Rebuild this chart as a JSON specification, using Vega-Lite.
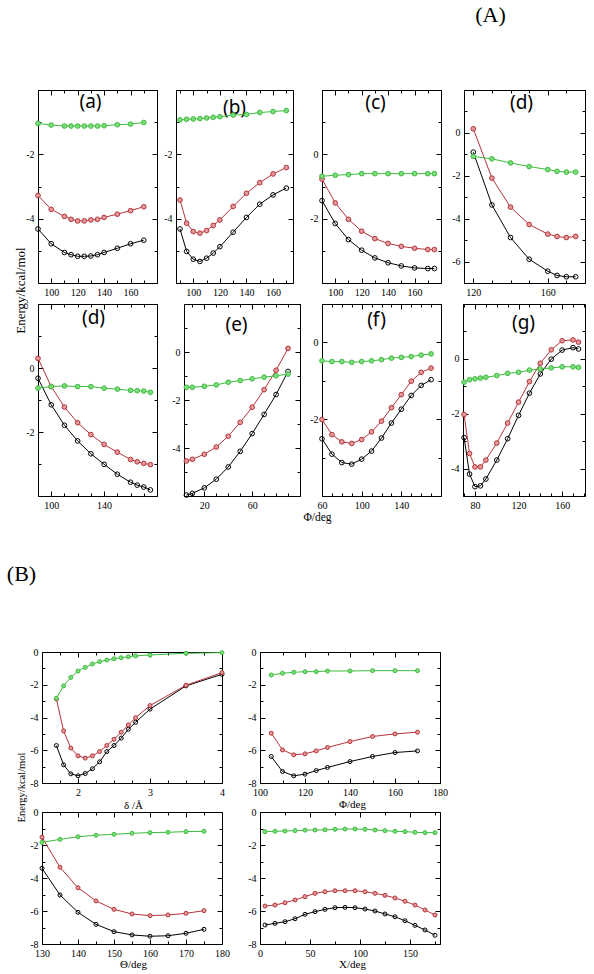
{
"$schema":"https://vega.github.io/schema/vega-lite/v6.json",
"width":594,"height":974,
"autosize":{"type":"none"},
"padding":0,
"background":"white",
"config":{
 "view":{"stroke":null},
 "axis":{"domain":true,"domainColor":"#000","domainWidth":1,"grid":false,"tickColor":"#000","tickWidth":1,"labelFont":"Liberation Serif","labelFontSize":10,"labelColor":"#000","labelFlush":false,"labelOverlap":false,"labelBound":false,"labelPadding":9,"titleFont":"Liberation Serif","titleFontWeight":"normal","titleColor":"#000","titleFontSize":12,"titleBaseline":"middle","titleAlign":"center"}
},
"data":{"values":[
{"p":"a","x":90,"k":-4.32,"r":-3.28,"g":-1.04},{"p":"a","x":100,"k":-4.78,"r":-3.71,"g":-1.09},{"p":"a","x":110,"k":-5.05,"r":-3.93,"g":-1.12},{"p":"a","x":115,"k":-5.12,"r":-4.02,"g":-1.12},{"p":"a","x":120,"k":-5.17,"r":-4.07,"g":-1.12},{"p":"a","x":125,"k":-5.17,"r":-4.07,"g":-1.12},{"p":"a","x":130,"k":-5.16,"r":-4.04,"g":-1.12},{"p":"a","x":135,"k":-5.12,"r":-4.02,"g":-1.12},{"p":"a","x":140,"k":-5.05,"r":-3.96,"g":-1.11},{"p":"a","x":150,"k":-4.92,"r":-3.86,"g":-1.08},{"p":"a","x":160,"k":-4.78,"r":-3.75,"g":-1.06},{"p":"a","x":170,"k":-4.67,"r":-3.63,"g":-1.01},
{"p":"b","x":90,"k":-4.32,"r":-3.42,"g":-0.93},{"p":"b","x":95,"k":-5.02,"r":-4.14,"g":-0.91},{"p":"b","x":100,"k":-5.26,"r":-4.40,"g":-0.90},{"p":"b","x":105,"k":-5.33,"r":-4.45,"g":-0.89},{"p":"b","x":110,"k":-5.23,"r":-4.37,"g":-0.87},{"p":"b","x":115,"k":-5.07,"r":-4.21,"g":-0.85},{"p":"b","x":120,"k":-4.87,"r":-4.04,"g":-0.83},{"p":"b","x":130,"k":-4.42,"r":-3.62,"g":-0.78},{"p":"b","x":140,"k":-3.96,"r":-3.21,"g":-0.76},{"p":"b","x":150,"k":-3.55,"r":-2.88,"g":-0.70},{"p":"b","x":160,"k":-3.26,"r":-2.61,"g":-0.67},{"p":"b","x":170,"k":-3.05,"r":-2.41,"g":-0.64},
{"p":"c","x":90,"k":-1.44,"r":-0.77,"g":-0.68},{"p":"c","x":100,"k":-2.15,"r":-1.51,"g":-0.65},{"p":"c","x":110,"k":-2.65,"r":-2.02,"g":-0.63},{"p":"c","x":120,"k":-2.98,"r":-2.39,"g":-0.60},{"p":"c","x":130,"k":-3.22,"r":-2.62,"g":-0.60},{"p":"c","x":140,"k":-3.37,"r":-2.77,"g":-0.60},{"p":"c","x":150,"k":-3.47,"r":-2.86,"g":-0.60},{"p":"c","x":160,"k":-3.53,"r":-2.92,"g":-0.60},{"p":"c","x":170,"k":-3.55,"r":-2.96,"g":-0.60},{"p":"c","x":175,"k":-3.55,"r":-2.96,"g":-0.60},
{"p":"d","x":120,"k":-0.90,"r":0.19,"g":-1.10},{"p":"d","x":130,"k":-3.36,"r":-2.11,"g":-1.21},{"p":"d","x":140,"k":-4.88,"r":-3.46,"g":-1.40},{"p":"d","x":150,"k":-5.89,"r":-4.27,"g":-1.57},{"p":"d","x":160,"k":-6.45,"r":-4.72,"g":-1.71},{"p":"d","x":165,"k":-6.65,"r":-4.83,"g":-1.79},{"p":"d","x":170,"k":-6.71,"r":-4.88,"g":-1.83},{"p":"d","x":175,"k":-6.71,"r":-4.83,"g":-1.83},
{"p":"d2","x":90,"k":-0.32,"r":0.30,"g":-0.63},{"p":"d2","x":100,"k":-1.15,"r":-0.58,"g":-0.58},{"p":"d2","x":110,"k":-1.79,"r":-1.22,"g":-0.56},{"p":"d2","x":120,"k":-2.28,"r":-1.71,"g":-0.58},{"p":"d2","x":130,"k":-2.68,"r":-2.08,"g":-0.58},{"p":"d2","x":140,"k":-3.01,"r":-2.39,"g":-0.63},{"p":"d2","x":150,"k":-3.32,"r":-2.63,"g":-0.66},{"p":"d2","x":160,"k":-3.57,"r":-2.86,"g":-0.70},{"p":"d2","x":165,"k":-3.66,"r":-2.93,"g":-0.71},{"p":"d2","x":170,"k":-3.72,"r":-2.98,"g":-0.72},{"p":"d2","x":175,"k":-3.81,"r":-3.02,"g":-0.76},
{"p":"e","x":5,"k":-5.96,"r":-4.54,"g":-1.47},{"p":"e","x":10,"k":-5.89,"r":-4.47,"g":-1.47},{"p":"e","x":20,"k":-5.66,"r":-4.26,"g":-1.43},{"p":"e","x":30,"k":-5.30,"r":-3.96,"g":-1.37},{"p":"e","x":40,"k":-4.79,"r":-3.51,"g":-1.26},{"p":"e","x":50,"k":-4.14,"r":-2.93,"g":-1.19},{"p":"e","x":60,"k":-3.40,"r":-2.30,"g":-1.12},{"p":"e","x":70,"k":-2.60,"r":-1.57,"g":-1.05},{"p":"e","x":80,"k":-1.77,"r":-0.76,"g":-0.99},{"p":"e","x":90,"k":-0.81,"r":0.15,"g":-0.92},
{"p":"f","x":60,"k":-2.51,"r":-2.01,"g":-0.48},{"p":"f","x":70,"k":-2.91,"r":-2.40,"g":-0.50},{"p":"f","x":80,"k":-3.13,"r":-2.59,"g":-0.50},{"p":"f","x":90,"k":-3.17,"r":-2.63,"g":-0.52},{"p":"f","x":100,"k":-3.04,"r":-2.53,"g":-0.50},{"p":"f","x":110,"k":-2.83,"r":-2.33,"g":-0.48},{"p":"f","x":120,"k":-2.49,"r":-2.05,"g":-0.45},{"p":"f","x":130,"k":-2.10,"r":-1.70,"g":-0.41},{"p":"f","x":140,"k":-1.74,"r":-1.36,"g":-0.39},{"p":"f","x":150,"k":-1.38,"r":-1.01,"g":-0.37},{"p":"f","x":160,"k":-1.12,"r":-0.78,"g":-0.33},{"p":"f","x":170,"k":-0.97,"r":-0.67,"g":-0.30},
{"p":"g","x":70,"k":-2.87,"r":-2.03,"g":-0.85},{"p":"g","x":75,"k":-4.20,"r":-3.45,"g":-0.76},{"p":"g","x":80,"k":-4.66,"r":-3.94,"g":-0.73},{"p":"g","x":85,"k":-4.63,"r":-3.94,"g":-0.70},{"p":"g","x":90,"k":-4.38,"r":-3.69,"g":-0.67},{"p":"g","x":100,"k":-3.69,"r":-3.07,"g":-0.61},{"p":"g","x":110,"k":-2.91,"r":-2.34,"g":-0.53},{"p":"g","x":120,"k":-2.06,"r":-1.58,"g":-0.49},{"p":"g","x":130,"k":-1.25,"r":-0.83,"g":-0.41},{"p":"g","x":140,"k":-0.55,"r":-0.16,"g":-0.37},{"p":"g","x":150,"k":-0.01,"r":0.33,"g":-0.33},{"p":"g","x":160,"k":0.32,"r":0.66,"g":-0.29},{"p":"g","x":170,"k":0.41,"r":0.69,"g":-0.29},{"p":"g","x":175,"k":0.36,"r":0.61,"g":-0.31},
{"p":"B1","x":1.7,"k":-5.71,"r":-2.87,"g":-2.83},{"p":"B1","x":1.8,"k":-6.89,"r":-4.82,"g":-2.07},{"p":"B1","x":1.9,"k":-7.44,"r":-5.87,"g":-1.55},{"p":"B1","x":2.0,"k":-7.56,"r":-6.34,"g":-1.16},{"p":"B1","x":2.1,"k":-7.42,"r":-6.48,"g":-0.94},{"p":"B1","x":2.2,"k":-7.13,"r":-6.34,"g":-0.73},{"p":"B1","x":2.3,"k":-6.71,"r":-6.08,"g":-0.59},{"p":"B1","x":2.4,"k":-6.08,"r":-5.71,"g":-0.49},{"p":"B1","x":2.5,"k":-5.71,"r":-5.33,"g":-0.41},{"p":"B1","x":2.6,"k":-5.26,"r":-4.90,"g":-0.35},{"p":"B1","x":2.7,"k":-4.72,"r":-4.45,"g":-0.29},{"p":"B1","x":2.8,"k":-4.29,"r":-4.01,"g":-0.24},{"p":"B1","x":3.0,"k":-3.49,"r":-3.27,"g":-0.18},{"p":"B1","x":3.5,"k":-2.07,"r":-2.03,"g":-0.08},{"p":"B1","x":4.0,"k":-1.36,"r":-1.26,"g":-0.04},
{"p":"B2","x":105,"k":-6.38,"r":-4.96,"g":-1.40},{"p":"B2","x":110,"k":-7.30,"r":-5.98,"g":-1.30},{"p":"B2","x":115,"k":-7.56,"r":-6.28,"g":-1.24},{"p":"B2","x":120,"k":-7.46,"r":-6.22,"g":-1.20},{"p":"B2","x":125,"k":-7.24,"r":-6.04,"g":-1.20},{"p":"B2","x":130,"k":-7.05,"r":-5.83,"g":-1.16},{"p":"B2","x":140,"k":-6.69,"r":-5.47,"g":-1.16},{"p":"B2","x":150,"k":-6.38,"r":-5.16,"g":-1.14},{"p":"B2","x":160,"k":-6.14,"r":-5.00,"g":-1.14},{"p":"B2","x":170,"k":-6.04,"r":-4.90,"g":-1.14},
{"p":"B3","x":130,"k":-3.41,"r":-1.53,"g":-1.84},{"p":"B3","x":135,"k":-5.03,"r":-3.35,"g":-1.66},{"p":"B3","x":140,"k":-6.08,"r":-4.59,"g":-1.50},{"p":"B3","x":145,"k":-6.81,"r":-5.39,"g":-1.41},{"p":"B3","x":150,"k":-7.25,"r":-5.90,"g":-1.35},{"p":"B3","x":155,"k":-7.45,"r":-6.18,"g":-1.29},{"p":"B3","x":160,"k":-7.53,"r":-6.28,"g":-1.25},{"p":"B3","x":165,"k":-7.50,"r":-6.24,"g":-1.23},{"p":"B3","x":170,"k":-7.35,"r":-6.14,"g":-1.19},{"p":"B3","x":175,"k":-7.11,"r":-5.98,"g":-1.17},
{"p":"B4","x":5,"k":-6.85,"r":-5.70,"g":-1.19},{"p":"B4","x":15,"k":-6.75,"r":-5.64,"g":-1.17},{"p":"B4","x":25,"k":-6.65,"r":-5.50,"g":-1.15},{"p":"B4","x":35,"k":-6.47,"r":-5.33,"g":-1.13},{"p":"B4","x":45,"k":-6.20,"r":-5.13,"g":-1.10},{"p":"B4","x":55,"k":-6.04,"r":-4.93,"g":-1.09},{"p":"B4","x":65,"k":-5.90,"r":-4.83,"g":-1.08},{"p":"B4","x":75,"k":-5.80,"r":-4.77,"g":-1.05},{"p":"B4","x":85,"k":-5.78,"r":-4.77,"g":-1.03},{"p":"B4","x":95,"k":-5.80,"r":-4.77,"g":-1.03},{"p":"B4","x":105,"k":-5.88,"r":-4.83,"g":-1.05},{"p":"B4","x":115,"k":-6.00,"r":-4.93,"g":-1.09},{"p":"B4","x":125,"k":-6.18,"r":-5.05,"g":-1.13},{"p":"B4","x":135,"k":-6.35,"r":-5.21,"g":-1.17},{"p":"B4","x":145,"k":-6.59,"r":-5.41,"g":-1.19},{"p":"B4","x":155,"k":-6.87,"r":-5.64,"g":-1.23},{"p":"B4","x":165,"k":-7.15,"r":-5.94,"g":-1.25},{"p":"B4","x":175,"k":-7.47,"r":-6.24,"g":-1.25}
]},
"resolve":{"scale":{"x":"independent","y":"independent"},"axis":{"x":"independent","y":"independent"}},
"layer":[
{"transform":[{"filter":"datum.p==='a'"},{"fold":["k","r","g"],"as":["s","y"]}],"mark":{"type":"line","strokeWidth":1},"encoding":{
 "x":{"field":"x","type":"quantitative","scale":{"domain":[90,180],"range":[38,157],"nice":false,"zero":false},"axis":{"orient":"bottom","offset":-691,"title":null,"values":[90,100,110,120,130,140,150,160,170,180],"tickSize":{"condition":{"test":"datum.value%20===0","value":-5},"value":-3},"labelExpr":"indexof([100,120,140,160],datum.value)>=0?''+datum.value:''"}},
 "y":{"field":"y","type":"quantitative","scale":{"domain":[-6,0],"range":[283,90],"nice":false,"zero":false},"axis":{"orient":"left","offset":-38,"title":"Energy/kcal/mol","titleX":-18,"titleY":290,"titleFontSize":13,"values":[-6,-5,-4,-3,-2,-1,0],"tickSize":{"condition":{"test":"datum.value%2===0","value":-5},"value":-3},"labelExpr":"indexof([-2,-4],datum.value)>=0?''+datum.value:''"}},
 "color":{"field":"s","type":"nominal","scale":{"domain":["k","r","g"],"range":["#000000","#b5333a","#3dbb3d"]},"legend":null}}},
{"transform":[{"filter":"datum.p==='a'"},{"fold":["k","r","g"],"as":["s","y"]}],"mark":{"type":"point","filled":false,"size":22,"strokeWidth":1,"opacity":1},"encoding":{
 "x":{"field":"x","type":"quantitative","scale":{"domain":[90,180],"range":[38,157],"nice":false,"zero":false},"axis":{"orient":"top","offset":-90,"title":"(a)","titleX":90,"titleY":17.5,"titleFont":"Noto Sans","titleFontSize":19,"titleAngle":0,"titleBaseline":"alphabetic","labels":false,"values":[90,100,110,120,130,140,150,160,170,180],"tickSize":{"condition":{"test":"datum.value%20===0","value":-5},"value":-3}}},
 "y":{"field":"y","type":"quantitative","scale":{"domain":[-6,0],"range":[283,90],"nice":false,"zero":false},"axis":{"orient":"right","offset":-437,"title":null,"labels":false,"values":[-6,-5,-4,-3,-2,-1,0],"tickSize":{"condition":{"test":"datum.value%2===0","value":-5},"value":-3}}},
 "color":{"field":"s","type":"nominal","scale":{"domain":["k","r","g"],"range":["#000000","#b5333a","#3dbb3d"]},"legend":null},
 "fill":{"field":"s","type":"nominal","scale":{"domain":["k","r","g"],"range":["transparent","#e49a9a","#7ddc7d"]},"legend":null}}},

{"transform":[{"filter":"datum.p==='b'"},{"fold":["k","r","g"],"as":["s","y"]}],"mark":{"type":"line","strokeWidth":1},"encoding":{
 "x":{"field":"x","type":"quantitative","scale":{"domain":[87,175],"range":[176,293],"nice":false,"zero":false},"axis":{"orient":"bottom","offset":-691,"title":null,"values":[90,100,110,120,130,140,150,160,170],"tickSize":{"condition":{"test":"datum.value%20===0","value":-5},"value":-3},"labelExpr":"indexof([100,120,140,160],datum.value)>=0?''+datum.value:''"}},
 "y":{"field":"y","type":"quantitative","scale":{"domain":[-6,0],"range":[283,90],"nice":false,"zero":false},"axis":{"orient":"left","offset":-176,"title":null,"values":[-6,-5,-4,-3,-2,-1,0],"tickSize":{"condition":{"test":"datum.value%2===0","value":-5},"value":-3},"labelExpr":"indexof([-2,-4],datum.value)>=0?''+datum.value:''"}},
 "color":{"field":"s","type":"nominal","scale":{"domain":["k","r","g"],"range":["#000000","#b5333a","#3dbb3d"]},"legend":null}}},
{"transform":[{"filter":"datum.p==='b'"},{"fold":["k","r","g"],"as":["s","y"]}],"mark":{"type":"point","filled":false,"size":22,"strokeWidth":1,"opacity":1},"encoding":{
 "x":{"field":"x","type":"quantitative","scale":{"domain":[87,175],"range":[176,293],"nice":false,"zero":false},"axis":{"orient":"top","offset":-90,"title":"(b)","titleX":234,"titleY":23.5,"titleFont":"Noto Sans","titleFontSize":19,"titleAngle":0,"titleBaseline":"alphabetic","labels":false,"values":[90,100,110,120,130,140,150,160,170],"tickSize":{"condition":{"test":"datum.value%20===0","value":-5},"value":-3}}},
 "y":{"field":"y","type":"quantitative","scale":{"domain":[-6,0],"range":[283,90],"nice":false,"zero":false},"axis":{"orient":"right","offset":-301,"title":null,"labels":false,"values":[-6,-5,-4,-3,-2,-1,0],"tickSize":{"condition":{"test":"datum.value%2===0","value":-5},"value":-3}}},
 "color":{"field":"s","type":"nominal","scale":{"domain":["k","r","g"],"range":["#000000","#b5333a","#3dbb3d"]},"legend":null},
 "fill":{"field":"s","type":"nominal","scale":{"domain":["k","r","g"],"range":["transparent","#e49a9a","#7ddc7d"]},"legend":null}}},

{"transform":[{"filter":"datum.p==='c'"},{"fold":["k","r","g"],"as":["s","y"]}],"mark":{"type":"line","strokeWidth":1},"encoding":{
 "x":{"field":"x","type":"quantitative","scale":{"domain":[90,180],"range":[322,441],"nice":false,"zero":false},"axis":{"orient":"bottom","offset":-691,"title":null,"values":[90,100,110,120,130,140,150,160,170,180],"tickSize":{"condition":{"test":"datum.value%20===0","value":-5},"value":-3},"labelExpr":"indexof([100,120,140,160],datum.value)>=0?''+datum.value:''"}},
 "y":{"field":"y","type":"quantitative","scale":{"domain":[-4,2],"range":[283,90],"nice":false,"zero":false},"axis":{"orient":"left","offset":-322,"title":null,"values":[-4,-3,-2,-1,0,1,2],"tickSize":{"condition":{"test":"datum.value%2===0","value":-5},"value":-3},"labelExpr":"indexof([0,-2],datum.value)>=0?''+datum.value:''"}},
 "color":{"field":"s","type":"nominal","scale":{"domain":["k","r","g"],"range":["#000000","#b5333a","#3dbb3d"]},"legend":null}}},
{"transform":[{"filter":"datum.p==='c'"},{"fold":["k","r","g"],"as":["s","y"]}],"mark":{"type":"point","filled":false,"size":22,"strokeWidth":1,"opacity":1},"encoding":{
 "x":{"field":"x","type":"quantitative","scale":{"domain":[90,180],"range":[322,441],"nice":false,"zero":false},"axis":{"orient":"top","offset":-90,"title":"(c)","titleX":375,"titleY":18.8,"titleFont":"Noto Sans","titleFontSize":19,"titleAngle":0,"titleBaseline":"alphabetic","labels":false,"values":[90,100,110,120,130,140,150,160,170,180],"tickSize":{"condition":{"test":"datum.value%20===0","value":-5},"value":-3}}},
 "y":{"field":"y","type":"quantitative","scale":{"domain":[-4,2],"range":[283,90],"nice":false,"zero":false},"axis":{"orient":"right","offset":-153,"title":null,"labels":false,"values":[-4,-3,-2,-1,0,1,2],"tickSize":{"condition":{"test":"datum.value%2===0","value":-5},"value":-3}}},
 "color":{"field":"s","type":"nominal","scale":{"domain":["k","r","g"],"range":["#000000","#b5333a","#3dbb3d"]},"legend":null},
 "fill":{"field":"s","type":"nominal","scale":{"domain":["k","r","g"],"range":["transparent","#e49a9a","#7ddc7d"]},"legend":null}}},

{"transform":[{"filter":"datum.p==='d'"},{"fold":["k","r","g"],"as":["s","y"]}],"mark":{"type":"line","strokeWidth":1},"encoding":{
 "x":{"field":"x","type":"quantitative","scale":{"domain":[115,180],"range":[464,585],"nice":false,"zero":false},"axis":{"orient":"bottom","offset":-691,"title":null,"values":[120,130,140,150,160,170,180],"tickSize":{"condition":{"test":"datum.value%40===0","value":-5},"value":-3},"labelExpr":"indexof([120,160],datum.value)>=0?''+datum.value:''"}},
 "y":{"field":"y","type":"quantitative","scale":{"domain":[-7,2],"range":[283,90],"nice":false,"zero":false},"axis":{"orient":"left","offset":-464,"title":null,"values":[-7,-6,-5,-4,-3,-2,-1,0,1,2],"tickSize":{"condition":{"test":"datum.value%2===0","value":-5},"value":-3},"labelExpr":"indexof([0,-2,-4,-6],datum.value)>=0?''+datum.value:''"}},
 "color":{"field":"s","type":"nominal","scale":{"domain":["k","r","g"],"range":["#000000","#b5333a","#3dbb3d"]},"legend":null}}},
{"transform":[{"filter":"datum.p==='d'"},{"fold":["k","r","g"],"as":["s","y"]}],"mark":{"type":"point","filled":false,"size":22,"strokeWidth":1,"opacity":1},"encoding":{
 "x":{"field":"x","type":"quantitative","scale":{"domain":[115,180],"range":[464,585],"nice":false,"zero":false},"axis":{"orient":"top","offset":-90,"title":"(d)","titleX":521,"titleY":18.8,"titleFont":"Noto Sans","titleFontSize":19,"titleAngle":0,"titleBaseline":"alphabetic","labels":false,"values":[120,130,140,150,160,170,180],"tickSize":{"condition":{"test":"datum.value%40===0","value":-5},"value":-3}}},
 "y":{"field":"y","type":"quantitative","scale":{"domain":[-7,2],"range":[283,90],"nice":false,"zero":false},"axis":{"orient":"right","offset":-9,"title":"(A)","titleX":-95,"titleY":21,"titleFont":"Liberation Serif","titleFontSize":22,"titleAngle":0,"titleBaseline":"alphabetic","labels":false,"values":[-7,-6,-5,-4,-3,-2,-1,0,1,2],"tickSize":{"condition":{"test":"datum.value%2===0","value":-5},"value":-3}}},
 "color":{"field":"s","type":"nominal","scale":{"domain":["k","r","g"],"range":["#000000","#b5333a","#3dbb3d"]},"legend":null},
 "fill":{"field":"s","type":"nominal","scale":{"domain":["k","r","g"],"range":["transparent","#e49a9a","#7ddc7d"]},"legend":null}}},

{"transform":[{"filter":"datum.p==='d2'"},{"fold":["k","r","g"],"as":["s","y"]}],"mark":{"type":"line","strokeWidth":1},"encoding":{
 "x":{"field":"x","type":"quantitative","scale":{"domain":[90,180],"range":[38,157],"nice":false,"zero":false},"axis":{"orient":"bottom","offset":-478,"title":null,"values":[90,100,110,120,130,140,150,160,170,180],"tickSize":{"condition":{"test":"(datum.value-100)%40===0","value":-5},"value":-3},"labelExpr":"indexof([100,140],datum.value)>=0?''+datum.value:''"}},
 "y":{"field":"y","type":"quantitative","scale":{"domain":[-4,2],"range":[496,304],"nice":false,"zero":false},"axis":{"orient":"left","offset":-38,"title":null,"values":[-4,-3,-2,-1,0,1,2],"tickSize":{"condition":{"test":"datum.value%2===0","value":-5},"value":-3},"labelExpr":"indexof([0,-2],datum.value)>=0?''+datum.value:''"}},
 "color":{"field":"s","type":"nominal","scale":{"domain":["k","r","g"],"range":["#000000","#b5333a","#3dbb3d"]},"legend":null}}},
{"transform":[{"filter":"datum.p==='d2'"},{"fold":["k","r","g"],"as":["s","y"]}],"mark":{"type":"point","filled":false,"size":22,"strokeWidth":1,"opacity":1},"encoding":{
 "x":{"field":"x","type":"quantitative","scale":{"domain":[90,180],"range":[38,157],"nice":false,"zero":false},"axis":{"orient":"top","offset":-304,"title":"(d)","titleX":93,"titleY":19.8,"titleFont":"Noto Sans","titleFontSize":19,"titleAngle":0,"titleBaseline":"alphabetic","labels":false,"values":[90,100,110,120,130,140,150,160,170,180],"tickSize":{"condition":{"test":"(datum.value-100)%40===0","value":-5},"value":-3}}},
 "y":{"field":"y","type":"quantitative","scale":{"domain":[-4,2],"range":[496,304],"nice":false,"zero":false},"axis":{"orient":"right","offset":-437,"title":null,"labels":false,"values":[-4,-3,-2,-1,0,1,2],"tickSize":{"condition":{"test":"datum.value%2===0","value":-5},"value":-3}}},
 "color":{"field":"s","type":"nominal","scale":{"domain":["k","r","g"],"range":["#000000","#b5333a","#3dbb3d"]},"legend":null},
 "fill":{"field":"s","type":"nominal","scale":{"domain":["k","r","g"],"range":["transparent","#e49a9a","#7ddc7d"]},"legend":null}}},

{"transform":[{"filter":"datum.p==='e'"},{"fold":["k","r","g"],"as":["s","y"]}],"mark":{"type":"line","strokeWidth":1},"encoding":{
 "x":{"field":"x","type":"quantitative","scale":{"domain":[3,100],"range":[184,300],"nice":false,"zero":false},"axis":{"orient":"bottom","offset":-478,"title":null,"values":[10,20,30,40,50,60,70,80,90,100],"tickSize":{"condition":{"test":"(datum.value-20)%40===0","value":-5},"value":-3},"labelExpr":"indexof([20,60],datum.value)>=0?''+datum.value:''"}},
 "y":{"field":"y","type":"quantitative","scale":{"domain":[-6,2],"range":[496,304],"nice":false,"zero":false},"axis":{"orient":"left","offset":-184,"title":null,"values":[-6,-5,-4,-3,-2,-1,0,1,2],"tickSize":{"condition":{"test":"datum.value%2===0","value":-5},"value":-3},"labelExpr":"indexof([0,-2,-4],datum.value)>=0?''+datum.value:''"}},
 "color":{"field":"s","type":"nominal","scale":{"domain":["k","r","g"],"range":["#000000","#b5333a","#3dbb3d"]},"legend":null}}},
{"transform":[{"filter":"datum.p==='e'"},{"fold":["k","r","g"],"as":["s","y"]}],"mark":{"type":"point","filled":false,"size":22,"strokeWidth":1,"opacity":1},"encoding":{
 "x":{"field":"x","type":"quantitative","scale":{"domain":[3,100],"range":[184,300],"nice":false,"zero":false},"axis":{"orient":"top","offset":-304,"title":"(e)","titleX":236,"titleY":26.5,"titleFont":"Noto Sans","titleFontSize":19,"titleAngle":0,"titleBaseline":"alphabetic","labels":false,"values":[10,20,30,40,50,60,70,80,90,100],"tickSize":{"condition":{"test":"(datum.value-20)%40===0","value":-5},"value":-3}}},
 "y":{"field":"y","type":"quantitative","scale":{"domain":[-6,2],"range":[496,304],"nice":false,"zero":false},"axis":{"orient":"right","offset":-294,"title":null,"labels":false,"values":[-6,-5,-4,-3,-2,-1,0,1,2],"tickSize":{"condition":{"test":"datum.value%2===0","value":-5},"value":-3}}},
 "color":{"field":"s","type":"nominal","scale":{"domain":["k","r","g"],"range":["#000000","#b5333a","#3dbb3d"]},"legend":null},
 "fill":{"field":"s","type":"nominal","scale":{"domain":["k","r","g"],"range":["transparent","#e49a9a","#7ddc7d"]},"legend":null}}},

{"transform":[{"filter":"datum.p==='f'"},{"fold":["k","r","g"],"as":["s","y"]}],"mark":{"type":"line","strokeWidth":1},"encoding":{
 "x":{"field":"x","type":"quantitative","scale":{"domain":[60,180],"range":[322,441],"nice":false,"zero":false},"axis":{"orient":"bottom","offset":-478,"title":"Φ/deg","titleX":317,"titleY":21,"titleFontSize":11.5,"values":[60,70,80,90,100,110,120,130,140,150,160,170,180],"tickSize":{"condition":{"test":"(datum.value-60)%40===0","value":-5},"value":-3},"labelExpr":"indexof([60,100,140],datum.value)>=0?''+datum.value:''"}},
 "y":{"field":"y","type":"quantitative","scale":{"domain":[-4,1],"range":[496,304],"nice":false,"zero":false},"axis":{"orient":"left","offset":-322,"title":null,"values":[-4,-3,-2,-1,0,1],"tickSize":{"condition":{"test":"datum.value%2===0","value":-5},"value":-3},"labelExpr":"indexof([0,-2],datum.value)>=0?''+datum.value:''"}},
 "color":{"field":"s","type":"nominal","scale":{"domain":["k","r","g"],"range":["#000000","#b5333a","#3dbb3d"]},"legend":null}}},
{"transform":[{"filter":"datum.p==='f'"},{"fold":["k","r","g"],"as":["s","y"]}],"mark":{"type":"point","filled":false,"size":22,"strokeWidth":1,"opacity":1},"encoding":{
 "x":{"field":"x","type":"quantitative","scale":{"domain":[60,180],"range":[322,441],"nice":false,"zero":false},"axis":{"orient":"top","offset":-304,"title":"(f)","titleX":376,"titleY":21.5,"titleFont":"Noto Sans","titleFontSize":19,"titleAngle":0,"titleBaseline":"alphabetic","labels":false,"values":[60,70,80,90,100,110,120,130,140,150,160,170,180],"tickSize":{"condition":{"test":"(datum.value-60)%40===0","value":-5},"value":-3}}},
 "y":{"field":"y","type":"quantitative","scale":{"domain":[-4,1],"range":[496,304],"nice":false,"zero":false},"axis":{"orient":"right","offset":-153,"title":null,"labels":false,"values":[-4,-3,-2,-1,0,1],"tickSize":{"condition":{"test":"datum.value%2===0","value":-5},"value":-3}}},
 "color":{"field":"s","type":"nominal","scale":{"domain":["k","r","g"],"range":["#000000","#b5333a","#3dbb3d"]},"legend":null},
 "fill":{"field":"s","type":"nominal","scale":{"domain":["k","r","g"],"range":["transparent","#e49a9a","#7ddc7d"]},"legend":null}}},

{"transform":[{"filter":"datum.p==='g'"},{"fold":["k","r","g"],"as":["s","y"]}],"mark":{"type":"line","strokeWidth":1},"encoding":{
 "x":{"field":"x","type":"quantitative","scale":{"domain":[69,181],"range":[463,585],"nice":false,"zero":false},"axis":{"orient":"bottom","offset":-478,"title":null,"values":[70,80,90,100,110,120,130,140,150,160,170,180],"tickSize":{"condition":{"test":"(datum.value-80)%40===0","value":-5},"value":-3},"labelExpr":"indexof([80,120,160],datum.value)>=0?''+datum.value:''"}},
 "y":{"field":"y","type":"quantitative","scale":{"domain":[-5,2],"range":[496,304],"nice":false,"zero":false},"axis":{"orient":"left","offset":-463,"title":null,"values":[-5,-4,-3,-2,-1,0,1,2],"tickSize":{"condition":{"test":"datum.value%2===0","value":-5},"value":-3},"labelExpr":"indexof([0,-2,-4],datum.value)>=0?''+datum.value:''"}},
 "color":{"field":"s","type":"nominal","scale":{"domain":["k","r","g"],"range":["#000000","#b5333a","#3dbb3d"]},"legend":null}}},
{"transform":[{"filter":"datum.p==='g'"},{"fold":["k","r","g"],"as":["s","y"]}],"mark":{"type":"point","filled":false,"size":22,"strokeWidth":1,"opacity":1},"encoding":{
 "x":{"field":"x","type":"quantitative","scale":{"domain":[69,181],"range":[463,585],"nice":false,"zero":false},"axis":{"orient":"top","offset":-304,"title":"(g)","titleX":523,"titleY":24.8,"titleFont":"Noto Sans","titleFontSize":19,"titleAngle":0,"titleBaseline":"alphabetic","labels":false,"values":[70,80,90,100,110,120,130,140,150,160,170,180],"tickSize":{"condition":{"test":"(datum.value-80)%40===0","value":-5},"value":-3}}},
 "y":{"field":"y","type":"quantitative","scale":{"domain":[-5,2],"range":[496,304],"nice":false,"zero":false},"axis":{"orient":"right","offset":-9,"title":null,"labels":false,"values":[-5,-4,-3,-2,-1,0,1,2],"tickSize":{"condition":{"test":"datum.value%2===0","value":-5},"value":-3}}},
 "color":{"field":"s","type":"nominal","scale":{"domain":["k","r","g"],"range":["#000000","#b5333a","#3dbb3d"]},"legend":null},
 "fill":{"field":"s","type":"nominal","scale":{"domain":["k","r","g"],"range":["transparent","#e49a9a","#7ddc7d"]},"legend":null}}},

{"transform":[{"filter":"datum.p==='B1'"},{"fold":["k","r","g"],"as":["s","y"]}],"mark":{"type":"line","strokeWidth":1},"encoding":{
 "x":{"field":"x","type":"quantitative","scale":{"domain":[1.5,4],"range":[42,222],"nice":false,"zero":false},"axis":{"orient":"bottom","offset":-191,"title":"δ /Å","titleX":133,"titleY":22,"titleFontSize":11,"values":[1.5,1.75,2,2.25,2.5,2.75,3,3.25,3.5,3.75,4],"tickSize":{"condition":{"test":"datum.value%1===0","value":-5},"value":-3},"labelExpr":"indexof([2,3,4],datum.value)>=0?''+datum.value:''"}},
 "y":{"field":"y","type":"quantitative","scale":{"domain":[-8,0],"range":[783,652],"nice":false,"zero":false},"axis":{"orient":"left","offset":-42,"title":"Energy/kcal/mol","titleX":-21,"titleY":787,"titleFontSize":10.5,"values":[-8,-7,-6,-5,-4,-3,-2,-1,0],"tickSize":{"condition":{"test":"datum.value%2===0","value":-5},"value":-3},"labelExpr":"indexof([0,-2,-4,-6,-8],datum.value)>=0?''+datum.value:''"}},
 "color":{"field":"s","type":"nominal","scale":{"domain":["k","r","g"],"range":["#000000","#b5333a","#3dbb3d"]},"legend":null}}},
{"transform":[{"filter":"datum.p==='B1'"},{"fold":["k","r","g"],"as":["s","y"]}],"mark":{"type":"point","filled":false,"size":16,"strokeWidth":1,"opacity":1},"encoding":{
 "x":{"field":"x","type":"quantitative","scale":{"domain":[1.5,4],"range":[42,222],"nice":false,"zero":false},"axis":{"orient":"top","offset":-652,"title":"(B)","titleX":21,"titleY":-72,"titleFont":"Liberation Serif","titleFontSize":22,"titleAngle":0,"titleBaseline":"alphabetic","labels":false,"values":[1.5,1.75,2,2.25,2.5,2.75,3,3.25,3.5,3.75,4],"tickSize":{"condition":{"test":"datum.value%1===0","value":-5},"value":-3}}},
 "y":{"field":"y","type":"quantitative","scale":{"domain":[-8,0],"range":[783,652],"nice":false,"zero":false},"axis":{"orient":"right","offset":-372,"title":null,"labels":false,"values":[-8,-7,-6,-5,-4,-3,-2,-1,0],"tickSize":{"condition":{"test":"datum.value%2===0","value":-5},"value":-3}}},
 "color":{"field":"s","type":"nominal","scale":{"domain":["k","r","g"],"range":["#000000","#b5333a","#3dbb3d"]},"legend":null},
 "fill":{"field":"s","type":"nominal","scale":{"domain":["k","r","g"],"range":["transparent","#e49a9a","#7ddc7d"]},"legend":null}}},

{"transform":[{"filter":"datum.p==='B2'"},{"fold":["k","r","g"],"as":["s","y"]}],"mark":{"type":"line","strokeWidth":1},"encoding":{
 "x":{"field":"x","type":"quantitative","scale":{"domain":[100,180],"range":[260,440],"nice":false,"zero":false},"axis":{"orient":"bottom","offset":-191,"title":"Φ/deg","titleX":352,"titleY":21,"titleFontSize":11,"values":[100,110,120,130,140,150,160,170,180],"tickSize":{"condition":{"test":"datum.value%20===0","value":-5},"value":-3},"labelExpr":"indexof([100,120,140,160,180],datum.value)>=0?''+datum.value:''"}},
 "y":{"field":"y","type":"quantitative","scale":{"domain":[-8,0],"range":[783,652],"nice":false,"zero":false},"axis":{"orient":"left","offset":-260,"title":null,"values":[-8,-7,-6,-5,-4,-3,-2,-1,0],"tickSize":{"condition":{"test":"datum.value%2===0","value":-5},"value":-3},"labelExpr":"indexof([0,-2,-4,-6,-8],datum.value)>=0?''+datum.value:''"}},
 "color":{"field":"s","type":"nominal","scale":{"domain":["k","r","g"],"range":["#000000","#b5333a","#3dbb3d"]},"legend":null}}},
{"transform":[{"filter":"datum.p==='B2'"},{"fold":["k","r","g"],"as":["s","y"]}],"mark":{"type":"point","filled":false,"size":16,"strokeWidth":1,"opacity":1},"encoding":{
 "x":{"field":"x","type":"quantitative","scale":{"domain":[100,180],"range":[260,440],"nice":false,"zero":false},"axis":{"orient":"top","offset":-652,"title":null,"labels":false,"values":[100,110,120,130,140,150,160,170,180],"tickSize":{"condition":{"test":"datum.value%20===0","value":-5},"value":-3}}},
 "y":{"field":"y","type":"quantitative","scale":{"domain":[-8,0],"range":[783,652],"nice":false,"zero":false},"axis":{"orient":"right","offset":-154,"title":null,"labels":false,"values":[-8,-7,-6,-5,-4,-3,-2,-1,0],"tickSize":{"condition":{"test":"datum.value%2===0","value":-5},"value":-3}}},
 "color":{"field":"s","type":"nominal","scale":{"domain":["k","r","g"],"range":["#000000","#b5333a","#3dbb3d"]},"legend":null},
 "fill":{"field":"s","type":"nominal","scale":{"domain":["k","r","g"],"range":["transparent","#e49a9a","#7ddc7d"]},"legend":null}}},

{"transform":[{"filter":"datum.p==='B3'"},{"fold":["k","r","g"],"as":["s","y"]}],"mark":{"type":"line","strokeWidth":1},"encoding":{
 "x":{"field":"x","type":"quantitative","scale":{"domain":[130,180],"range":[42,222],"nice":false,"zero":false},"axis":{"orient":"bottom","offset":-30,"title":"Θ/deg","titleX":133,"titleY":20,"titleFontSize":11,"values":[130,135,140,145,150,155,160,165,170,175,180],"tickSize":{"condition":{"test":"datum.value%10===0","value":-5},"value":-3},"labelExpr":"indexof([130,140,150,160,170,180],datum.value)>=0?''+datum.value:''"}},
 "y":{"field":"y","type":"quantitative","scale":{"domain":[-8,0],"range":[944,812],"nice":false,"zero":false},"axis":{"orient":"left","offset":-42,"title":null,"values":[-8,-7,-6,-5,-4,-3,-2,-1,0],"tickSize":{"condition":{"test":"datum.value%2===0","value":-5},"value":-3},"labelExpr":"indexof([0,-2,-4,-6,-8],datum.value)>=0?''+datum.value:''"}},
 "color":{"field":"s","type":"nominal","scale":{"domain":["k","r","g"],"range":["#000000","#b5333a","#3dbb3d"]},"legend":null}}},
{"transform":[{"filter":"datum.p==='B3'"},{"fold":["k","r","g"],"as":["s","y"]}],"mark":{"type":"point","filled":false,"size":16,"strokeWidth":1,"opacity":1},"encoding":{
 "x":{"field":"x","type":"quantitative","scale":{"domain":[130,180],"range":[42,222],"nice":false,"zero":false},"axis":{"orient":"top","offset":-812,"title":null,"labels":false,"values":[130,135,140,145,150,155,160,165,170,175,180],"tickSize":{"condition":{"test":"datum.value%10===0","value":-5},"value":-3}}},
 "y":{"field":"y","type":"quantitative","scale":{"domain":[-8,0],"range":[944,812],"nice":false,"zero":false},"axis":{"orient":"right","offset":-372,"title":null,"labels":false,"values":[-8,-7,-6,-5,-4,-3,-2,-1,0],"tickSize":{"condition":{"test":"datum.value%2===0","value":-5},"value":-3}}},
 "color":{"field":"s","type":"nominal","scale":{"domain":["k","r","g"],"range":["#000000","#b5333a","#3dbb3d"]},"legend":null},
 "fill":{"field":"s","type":"nominal","scale":{"domain":["k","r","g"],"range":["transparent","#e49a9a","#7ddc7d"]},"legend":null}}},

{"transform":[{"filter":"datum.p==='B4'"},{"fold":["k","r","g"],"as":["s","y"]}],"mark":{"type":"line","strokeWidth":1},"encoding":{
 "x":{"field":"x","type":"quantitative","scale":{"domain":[0,180],"range":[260,440],"nice":false,"zero":false},"axis":{"orient":"bottom","offset":-30,"title":"X/deg","titleX":352,"titleY":20,"titleFontSize":11,"values":[0,25,50,75,100,125,150,175],"tickSize":{"condition":{"test":"datum.value%50===0","value":-5},"value":-3},"labelExpr":"indexof([0,50,100,150],datum.value)>=0?''+datum.value:''"}},
 "y":{"field":"y","type":"quantitative","scale":{"domain":[-8,0],"range":[944,812],"nice":false,"zero":false},"axis":{"orient":"left","offset":-260,"title":null,"values":[-8,-7,-6,-5,-4,-3,-2,-1,0],"tickSize":{"condition":{"test":"datum.value%2===0","value":-5},"value":-3},"labelExpr":"indexof([0,-2,-4,-6,-8],datum.value)>=0?''+datum.value:''"}},
 "color":{"field":"s","type":"nominal","scale":{"domain":["k","r","g"],"range":["#000000","#b5333a","#3dbb3d"]},"legend":null}}},
{"transform":[{"filter":"datum.p==='B4'"},{"fold":["k","r","g"],"as":["s","y"]}],"mark":{"type":"point","filled":false,"size":16,"strokeWidth":1,"opacity":1},"encoding":{
 "x":{"field":"x","type":"quantitative","scale":{"domain":[0,180],"range":[260,440],"nice":false,"zero":false},"axis":{"orient":"top","offset":-812,"title":null,"labels":false,"values":[0,25,50,75,100,125,150,175],"tickSize":{"condition":{"test":"datum.value%50===0","value":-5},"value":-3}}},
 "y":{"field":"y","type":"quantitative","scale":{"domain":[-8,0],"range":[944,812],"nice":false,"zero":false},"axis":{"orient":"right","offset":-154,"title":null,"labels":false,"values":[-8,-7,-6,-5,-4,-3,-2,-1,0],"tickSize":{"condition":{"test":"datum.value%2===0","value":-5},"value":-3}}},
 "color":{"field":"s","type":"nominal","scale":{"domain":["k","r","g"],"range":["#000000","#b5333a","#3dbb3d"]},"legend":null},
 "fill":{"field":"s","type":"nominal","scale":{"domain":["k","r","g"],"range":["transparent","#e49a9a","#7ddc7d"]},"legend":null}}}
]
}
